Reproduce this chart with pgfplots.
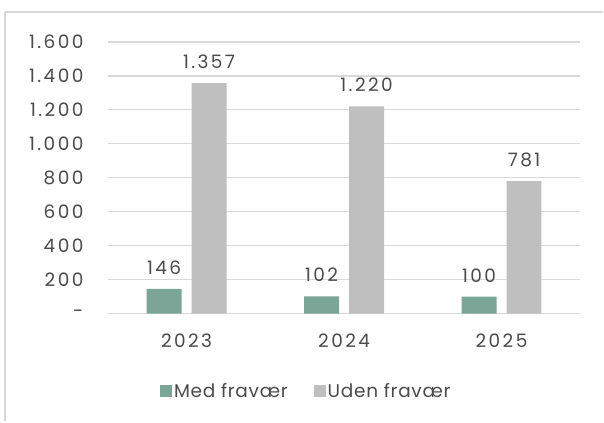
\documentclass[border=0pt]{standalone}
\usepackage{pgfplots}
\pgfplotsset{compat=1.18}
\usepackage{fontspec}
\setmainfont{Poppins}[LetterSpace=4]
\newfontfamily\numfont{Poppins}[LetterSpace=13]
\definecolor{medc}{HTML}{7AA597}
\definecolor{udenc}{HTML}{BFBFBF}
\definecolor{gridc}{HTML}{D9D9D9}
\definecolor{txtc}{HTML}{4A4A4A}
\begin{document}
\begin{tikzpicture}[x=1pt,y=1pt]
\path (0,0) rectangle (604,422);
\draw[gridc, line width=1.5pt] (5,0) -- (5,410) -- (604,410);
\begin{axis}[
  at={(108pt,108pt)}, anchor=south west,
  scale only axis, width=473pt, height=272pt,
  /pgf/number format/assume math mode=true,
  ybar=10pt, bar width=35pt,
  xmin=-0.5, xmax=2.5, ymin=0, ymax=1600,
  xtick=data, xticklabels={2023,2024,2025},
  ytick={0,200,...,1600},
  yticklabels={-,200,400,600,800,1.000,1.200,1.400,1.600},
  axis line style={draw=none},
  axis x line*=bottom,
  x axis line style={draw=gridc, line width=1.2pt},
  major tick length=0pt,
  ymajorgrids, grid style={gridc, line width=1.2pt},
  tick label style={font=\numfont\fontsize{18.5}{22}\selectfont, text=txtc},
  yticklabel style={xshift=-21pt, anchor=east},
  xticklabel style={yshift=-17pt},
  nodes near coords,
  nodes near coords style={font=\numfont\fontsize{18.5}{22}\selectfont, text=txtc, yshift=11pt,
    /pgf/number format/.cd, 1000 sep={.}, assume math mode=true},
  legend style={at={(0.42,-0.285)}, anchor=center, draw=none, legend columns=2,
    font=\fontsize{18.5}{22}\selectfont, text=txtc,
    /tikz/every even column/.append style={column sep=24pt}},
  legend image code/.code={\fill[#1] (2pt,-6pt) rectangle (14pt,6pt);},
  clip=false,
]
\addplot[fill=medc, draw=none] coordinates {(0,146) (1,102) (2,100)};
\addplot[fill=udenc, draw=none] coordinates {(0,1357) (1,1220) (2,781)};
\legend{Med fravær, Uden fravær}
\end{axis}
\end{tikzpicture}
\end{document}
